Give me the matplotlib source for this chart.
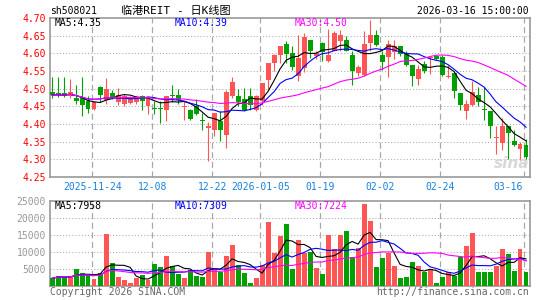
import matplotlib.pyplot as plt
import numpy as np
import pandas as pd

plt.rcParams['font.family'] = ['DejaVu Sans Mono', 'Noto Sans CJK SC']

# daily OHLC, 2025-11-13 .. 2026-03-16
opens = [4.491, 4.487, 4.487, 4.479, 4.475, 4.475, 4.466, 4.442, 4.506, 4.468,
         4.487, 4.462, 4.458, 4.460, 4.461, 4.480, 4.450, 4.445, 4.445, 4.441,
         4.483, 4.483, 4.448, 4.441, 4.450, 4.411, 4.390, 4.384, 4.408, 4.368,
         4.478, 4.480, 4.472, 4.480, 4.441, 4.466, 4.525, 4.573, 4.596, 4.626,
         4.601, 4.535, 4.558, 4.639, 4.592, 4.629, 4.577, 4.608, 4.634, 4.639,
         4.596, 4.544, 4.540, 4.629, 4.653, 4.596, 4.589, 4.604, 4.620, 4.598,
         4.566, 4.528, 4.570, 4.587, 4.592, 4.589, 4.533, 4.544, 4.488, 4.436,
         4.455, 4.483, 4.442, 4.438, 4.360, 4.346, 4.395, 4.353, 4.329, 4.341]
highs = [4.532, 4.532, 4.532, 4.528, 4.509, 4.534, 4.480, 4.465, 4.508, 4.530,
         4.495, 4.503, 4.485, 4.480, 4.478, 4.482, 4.476, 4.466, 4.466, 4.480,
         4.510, 4.500, 4.466, 4.443, 4.472, 4.430, 4.407, 4.431, 4.436, 4.497,
         4.532, 4.500, 4.503, 4.503, 4.483, 4.516, 4.573, 4.598, 4.620, 4.634,
         4.620, 4.653, 4.657, 4.639, 4.608, 4.632, 4.670, 4.663, 4.667, 4.650,
         4.606, 4.567, 4.664, 4.695, 4.667, 4.606, 4.639, 4.639, 4.620, 4.607,
         4.568, 4.568, 4.578, 4.592, 4.594, 4.596, 4.568, 4.548, 4.488, 4.469,
         4.523, 4.506, 4.504, 4.438, 4.393, 4.417, 4.395, 4.384, 4.350, 4.358]
lows = [4.475, 4.476, 4.476, 4.475, 4.457, 4.422, 4.431, 4.440, 4.462, 4.457,
        4.470, 4.455, 4.452, 4.457, 4.458, 4.440, 4.428, 4.428, 4.403, 4.408,
        4.462, 4.457, 4.410, 4.410, 4.426, 4.384, 4.294, 4.365, 4.353, 4.332,
        4.475, 4.450, 4.436, 4.441, 4.436, 4.455, 4.497, 4.549, 4.573, 4.573,
        4.553, 4.521, 4.548, 4.587, 4.585, 4.577, 4.575, 4.606, 4.606, 4.606,
        4.511, 4.535, 4.535, 4.606, 4.620, 4.554, 4.532, 4.583, 4.592, 4.563,
        4.507, 4.511, 4.545, 4.542, 4.580, 4.535, 4.530, 4.475, 4.440, 4.415,
        4.450, 4.450, 4.410, 4.360, 4.315, 4.327, 4.300, 4.338, 4.294, 4.294]
closes = [4.482, 4.483, 4.480, 4.491, 4.466, 4.453, 4.442, 4.462, 4.481, 4.500,
          4.475, 4.482, 4.478, 4.474, 4.474, 4.466, 4.474, 4.443, 4.443, 4.478,
          4.478, 4.469, 4.451, 4.415, 4.428, 4.408, 4.394, 4.431, 4.384, 4.491,
          4.519, 4.462, 4.441, 4.455, 4.478, 4.516, 4.573, 4.594, 4.620, 4.598,
          4.560, 4.587, 4.645, 4.608, 4.601, 4.604, 4.596, 4.658, 4.653, 4.608,
          4.549, 4.560, 4.626, 4.653, 4.625, 4.575, 4.625, 4.620, 4.598, 4.568,
          4.535, 4.557, 4.551, 4.590, 4.585, 4.538, 4.537, 4.492, 4.453, 4.457,
          4.491, 4.462, 4.440, 4.393, 4.363, 4.393, 4.375, 4.340, 4.343, 4.308]
volumes = [2250, 3000, 2700, 2700, 5000, 3700, 3200, 2000, 3700, 15300,
           6900, 2600, 1900, 800, 2500, 3200, 1800, 6500, 5600, 8800,
           5900, 3500, 2250, 4700, 2900, 2700, 10000, 5000, 4000, 8900,
           12000, 6100, 3700, 800, 2250, 6100, 18800, 9600, 14700, 18100,
           5000, 13500, 9800, 10000, 5200, 3500, 15000, 10800, 15000, 16200,
           8500, 11100, 24000, 19100, 5600, 8200, 9800, 5900, 2300, 2600,
           7000, 5900, 4200, 4900, 800, 2650, 4200, 2950, 8500, 11900,
           15700, 4200, 4200, 4200, 5800, 11000, 9500, 4300, 11000, 4000]

date_idx = [7, 17, 27, 35, 45, 55, 65, 79]
date_labels = ['2025-11-24', '12-08', '12-22', '2026-01-05', '01-19', '02-02', '02-24', '03-16']
price_ticks = [4.25, 4.30, 4.35, 4.40, 4.45, 4.50, 4.55, 4.60, 4.65, 4.70]
vol_ticks = [5000, 10000, 15000, 20000, 25000]
price_ma_text = ['MA5:4.35', 'MA10:4.39', 'MA30:4.50']
vol_ma_text = ['MA5:7958', 'MA10:7309', 'MA30:7224']

RED = '#ff5555'
GREEN = '#00a000'
MA_COLORS = ['black', '#0000ff', '#ff00ff']
GRID = '#aaaaaa'
W, H = 545, 300

fig = plt.figure(figsize=(W / 100, H / 100), dpi=100)
ax = fig.add_axes([50 / W, 1 - 177 / H, 480 / W, 159 / H])
axv = fig.add_axes([50 / W, 1 - 286 / H, 480 / W, 85 / H])

x = np.arange(len(closes))
o = np.array(opens)
c = np.array(closes)
colors = np.where(c >= o, RED, GREEN)

# candles
ax.vlines(x, lows, highs, colors=colors, linewidth=0.8, zorder=2)
ax.bar(x, np.maximum(np.abs(c - o), 0.003), bottom=np.minimum(o, c), width=0.8,
       color=colors, linewidth=0, zorder=3)

s = pd.Series(closes)
for n, col in zip([5, 10, 30], MA_COLORS):
    ax.plot(x, s.rolling(n, min_periods=1).mean(), color=col, linewidth=0.8, zorder=4)

# volume
axv.bar(x, volumes, width=0.8, color=colors, linewidth=0, zorder=3)
v = pd.Series(volumes)
for n, col in zip([5, 10, 30], MA_COLORS):
    axv.plot(x, v.rolling(n, min_periods=1).mean(), color=col, linewidth=0.8, zorder=4)

for a in (ax, axv):
    a.set_xlim(-0.35, 79.65)
    a.set_xticks([])
    for d in date_idx:
        a.axvline(d - 0.3, color='#a8a8a8', linewidth=0.9, linestyle=(0, (4.8, 2.9)), zorder=1)
    for sp in a.spines.values():
        sp.set_color('#999999')
        sp.set_linewidth(1.2)
    a.tick_params(axis='y', length=0, pad=3, labelsize=7)

ax.set_ylim(4.25, 4.70)
ax.set_yticks(price_ticks)
ax.set_yticklabels(['%.2f' % t for t in price_ticks], color='#ff0000')
for t in price_ticks[1:-1]:
    ax.axhline(t, color=GRID, linewidth=0.75, linestyle=(0, (1, 2)), zorder=1)

axv.set_ylim(0, 25000)
axv.set_yticks(vol_ticks)
axv.set_yticklabels([str(t) for t in vol_ticks], color='#999999')
for t in vol_ticks[:-1]:
    axv.axhline(t, color=GRID, linewidth=0.75, linestyle=(0, (1, 2)), zorder=1)

# date labels under the price panel
trans = ax.get_xaxis_transform()
for d, lab in zip(date_idx, date_labels):
    if d == date_idx[-1]:
        ax.text(d - 0.5, -0.06, lab, transform=trans, ha='right', va='center',
                fontsize=7, color='#1a80d9')
    else:
        ax.text(d - 0.3, -0.06, lab, transform=trans, ha='center', va='center',
                fontsize=7, color='#1a80d9')

# header and legends
fig.text(50 / W, 1 - 11 / H, 'sh508021', ha='left', va='center', fontsize=7)
fig.text(176 / W, 1 - 11 / H, '临港REIT - 日K线图', ha='center', va='center', fontsize=8)
fig.text(529 / W, 1 - 11 / H, '2026-03-16 15:00:00', ha='right', va='center', fontsize=7)
for xp, t, col in zip([55, 175, 295], price_ma_text, MA_COLORS):
    fig.text(xp / W, 1 - 23.5 / H, t, ha='left', va='center', fontsize=7, color=col)
for xp, t, col in zip([55, 175, 295], vol_ma_text, MA_COLORS):
    fig.text(xp / W, 1 - 206 / H, t, ha='left', va='center', fontsize=7, color=col)

fig.text(512 / W, 1 - 163 / H, 'sina', ha='center', va='center', fontsize=11,
         style='italic', weight='bold', color='#d8d8d8', family='DejaVu Sans')
fig.text(50 / W, 1 - 292 / H, 'Copyright 2026 SINA.COM', ha='left', va='center',
         fontsize=7, color='#666666')
fig.text(529 / W, 1 - 292 / H, 'http://finance.sina.com.cn', ha='right', va='center',
         fontsize=7, color='#666666')

fig.savefig('out.png', dpi=100)
